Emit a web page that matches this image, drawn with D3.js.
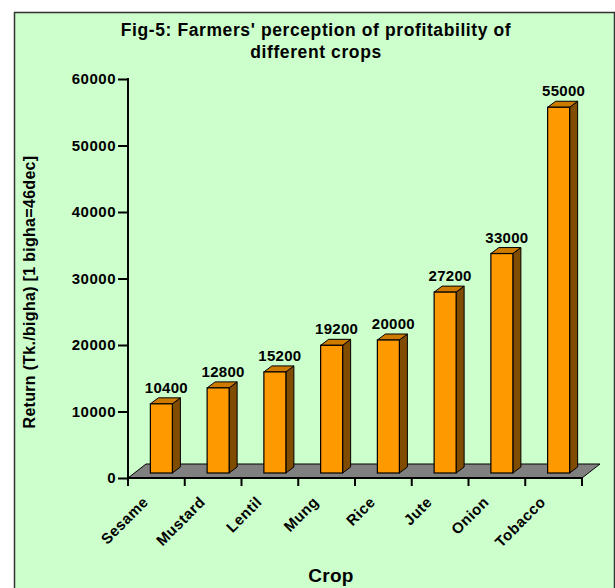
<!DOCTYPE html>
<html><head><meta charset="utf-8">
<script src="https://cdn.jsdelivr.net/npm/d3@7"></script>
<style>
html,body{margin:0;padding:0;background:#fff;}
svg text{font-family:"Liberation Sans",Arial,sans-serif;font-weight:bold;fill:#000;}
</style></head>
<body>
<svg id="chart" width="615" height="588"></svg>
<script>
const crops = ["Sesame","Mustard","Lentil","Mung","Rice","Jute","Onion","Tobacco"];
const returns = [10400,12800,15200,19200,20000,27200,33000,55000];
const yTicks = [0,10000,20000,30000,40000,50000,60000];
const titleLines = ["Fig-5: Farmers' perception of profitability of","different crops"];
const yTitle = "Return (Tk./bigha) [1 bigha=46dec]";
const xTitle = "Crop";

const svg = d3.select("#chart");
svg.append("rect").attr("x",14.5).attr("y",12.5).attr("width",600).attr("height",590)
  .attr("fill","#CCFFCC").attr("stroke","#333").attr("stroke-width",1.5);

const x = d3.scaleBand().domain(crops).range([128,582]).padding(0);
const y = d3.scaleLinear().domain([0,60000]).range([478,79]);

// title
svg.append("g").selectAll("text").data(titleLines).join("text")
  .attr("x",316).attr("y",(d,i)=>36+i*22).attr("text-anchor","middle")
  .attr("font-size",17.5).attr("letter-spacing","0.6px").text(d=>d);

// floor
const fdx=18, fdy=-14;
const x0=x.range()[0], x1=x.range()[1], yb=y(0);
svg.append("polygon")
  .attr("points",[[x0,yb],[x1,yb],[x1+fdx,yb+fdy],[x0+fdx,yb+fdy]].map(p=>p.join(",")).join(" "))
  .attr("fill","#808080").attr("stroke","#000").attr("stroke-width",1);

// bars
const bw=22, ddx=8, ddy=-6, shift=5;
const g = svg.append("g");
crops.forEach((c,i)=>{
  const cx = x(c)+x.bandwidth()/2;
  const fx0 = cx+shift-bw/2, fx1 = cx+shift+bw/2;
  const by = y(0)-5, ty = y(returns[i])-5;
  g.append("polygon").attr("points",[[fx1,ty],[fx1+ddx,ty+ddy],[fx1+ddx,by+ddy],[fx1,by]].map(p=>p.join(",")).join(" "))
    .attr("fill","#7F4C00").attr("stroke","#000").attr("stroke-width",1);
  g.append("polygon").attr("points",[[fx0,ty],[fx0+ddx,ty+ddy],[fx1+ddx,ty+ddy],[fx1,ty]].map(p=>p.join(",")).join(" "))
    .attr("fill","#CC7A00").attr("stroke","#000").attr("stroke-width",1);
  g.append("rect").attr("x",fx0).attr("y",ty).attr("width",bw).attr("height",by-ty)
    .attr("fill","#FF9900").attr("stroke","#000").attr("stroke-width",1.2);
  g.append("text").attr("x",cx+10).attr("y",ty-11).attr("text-anchor","middle")
    .attr("font-size",15).attr("letter-spacing","0.3px").text(returns[i]);
});

// y axis
const yAxis = d3.axisLeft(y).tickValues(yTicks).tickSize(10).tickPadding(2).tickFormat(d3.format("d"));
const ya = svg.append("g").attr("transform","translate(128,0)").call(yAxis);
ya.select(".domain").remove();
ya.selectAll(".tick line").attr("stroke","#000").attr("stroke-width",2);
ya.selectAll(".tick text").attr("font-size",15).attr("letter-spacing","0.5px")
  .attr("font-family","Liberation Sans, Arial, sans-serif").attr("font-weight","bold").attr("fill","#000");
svg.append("line").attr("x1",128).attr("x2",128).attr("y1",y(60000)-1).attr("y2",y(0)+8)
  .attr("stroke","#000").attr("stroke-width",2);

// x axis
svg.append("line").attr("x1",127).attr("x2",x1+1).attr("y1",yb).attr("y2",yb)
  .attr("stroke","#000").attr("stroke-width",2);
const bounds = crops.map(c=>x(c)+x.bandwidth());
svg.append("g").selectAll("line").data(bounds).join("line")
  .attr("x1",d=>d).attr("x2",d=>d).attr("y1",yb).attr("y2",yb+8)
  .attr("stroke","#000").attr("stroke-width",2);

svg.append("g").selectAll("text").data(crops).join("text")
  .attr("transform",d=>`translate(${x(d)+x.bandwidth()/2-7},503) rotate(-45)`)
  .attr("text-anchor","end").attr("font-size",15).attr("letter-spacing","0.5px").text(d=>d);

// axis titles
svg.append("text").attr("transform","translate(35,292) rotate(-90)").attr("text-anchor","middle")
  .attr("font-size",16).attr("letter-spacing","0.3px").text(yTitle);
svg.append("text").attr("x",331).attr("y",582).attr("text-anchor","middle")
  .attr("font-size",19).attr("letter-spacing","0.3px").text(xTitle);
</script>
</body></html>
